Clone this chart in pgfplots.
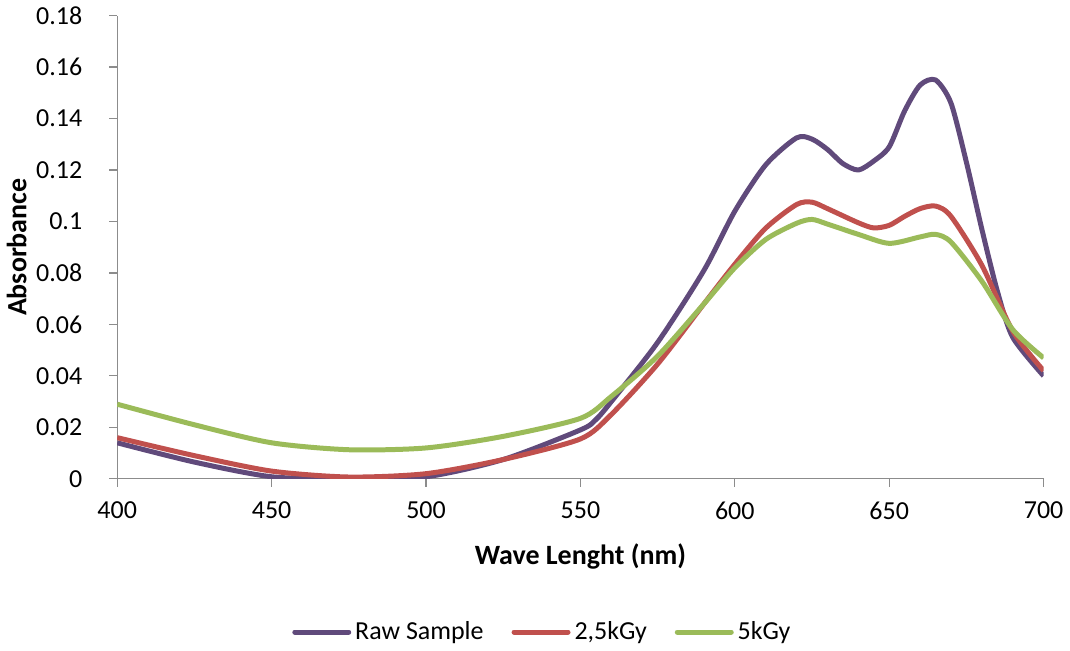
\documentclass[border=0pt]{standalone}
\usepackage{pgfplots}
\pgfplotsset{compat=1.18}
\usepackage{fontspec}
\setmainfont{Carlito}

\definecolor{rawc}{HTML}{604A7B}
\definecolor{kgyA}{HTML}{C0504D}
\definecolor{kgyB}{HTML}{9BBB59}

\begin{document}
\begin{tikzpicture}
\begin{axis}[
    scale only axis,
    width=464pt, height=232pt,
    xmin=400, xmax=700, ymin=0, ymax=0.18,
    xtick={400,450,...,700},
    ytick={0,0.02,...,0.18},
    axis x line=bottom, axis y line=left,
    axis line style={gray!90, line width=0.6pt, -},
    tick style={gray!90, line width=0.6pt},
    tick align=outside, major tick length=4pt,
    scaled y ticks=false,
    yticklabel style={/pgf/number format/fixed, /pgf/number format/precision=2, xshift=-10pt},
    xticklabel style={yshift=-4pt},
    /pgf/number format/assume math mode=true,
    ticklabel style={font=\fontsize{13}{15}\selectfont},
    xlabel={\textbf{Wave Lenght (nm)}},
    ylabel={\textbf{Absorbance}},
    label style={font=\fontsize{14}{16}\selectfont},
    xlabel style={yshift=-5pt},
    ylabel style={yshift=-2pt},
    legend style={at={(0.46,-0.29)}, anchor=north, legend columns=3, draw=none,
      font=\fontsize{13}{15}\selectfont,
      /tikz/every even column/.append style={column sep=12pt}},
    legend image code/.code={\draw[#1, line cap=round] (0cm,0cm) -- (0.95cm,0cm);},
    every axis plot/.append style={line width=2.5pt, smooth, tension=0.45, line join=round},
]
\addplot[rawc] coordinates {
 (400,0.014) (425,0.0065) (450,0.0008) (475,0.0) (500,0.0008) (525,0.0075)
 (550,0.019) (555,0.023) (560,0.030) (575,0.053) (590,0.081) (600,0.104)
 (610,0.122) (620,0.1325) (625,0.132) (630,0.128) (635,0.1225) (640,0.120)
 (645,0.1235) (650,0.129) (655,0.143) (660,0.153) (665,0.155) (670,0.146)
 (675,0.123) (680,0.097) (685,0.073) (690,0.055) (700,0.040)};
\addplot[kgyA] coordinates {
 (400,0.016) (425,0.0090) (450,0.0030) (475,0.0007) (500,0.0020) (525,0.0075)
 (550,0.0155) (560,0.025) (575,0.0446) (590,0.068) (600,0.0834)
 (610,0.0974) (620,0.1066) (625,0.1075) (630,0.105) (640,0.0995) (645,0.0975)
 (650,0.0985) (655,0.102) (660,0.105) (665,0.106) (670,0.102) (680,0.083)
 (690,0.0574) (700,0.042)};
\addplot[kgyB] coordinates {
 (400,0.029) (425,0.021) (450,0.014) (475,0.0113) (500,0.012) (525,0.0165)
 (550,0.0235) (560,0.0320) (575,0.0477) (590,0.068) (600,0.082)
 (610,0.093) (620,0.0993) (625,0.1008) (630,0.099) (640,0.095) (650,0.0915)
 (660,0.094) (665,0.095) (670,0.092) (680,0.0768) (690,0.058) (700,0.047)};
\legend{Raw Sample, {2,5kGy}, 5kGy}
\end{axis}
\end{tikzpicture}
\end{document}
